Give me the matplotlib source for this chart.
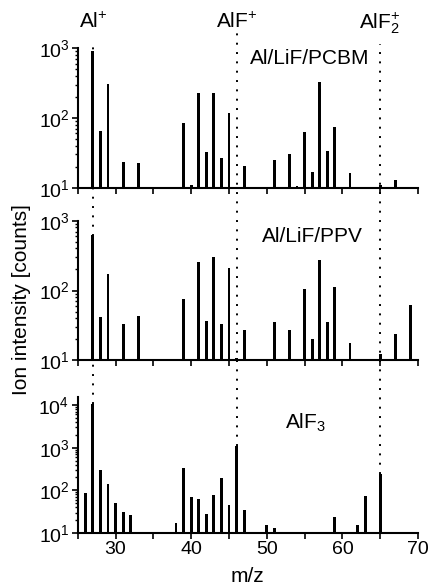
import matplotlib
matplotlib.use("Agg")
import matplotlib.pyplot as plt
from matplotlib.lines import Line2D
from matplotlib.ticker import MultipleLocator, LogLocator, NullFormatter
from matplotlib import transforms
import numpy as np

plt.rcParams['font.family'] = ['Liberation Sans', 'DejaVu Sans']
plt.rcParams['mathtext.fontset'] = 'custom'
plt.rcParams['mathtext.rm'] = 'Liberation Sans'
plt.rcParams['mathtext.it'] = 'Liberation Sans:italic'
plt.rcParams['mathtext.bf'] = 'Liberation Sans:bold'

# ---- data ----
pcbm_mz = [27, 28, 29, 31, 33, 39, 40, 41, 42, 43, 44, 45, 47, 51, 53, 54, 55, 56, 57, 58, 59, 61, 65, 67]
pcbm_counts = [900, 65, 304, 23.6, 22.4, 86, 11, 231, 32, 226, 26.7, 117, 20.7, 25, 30, 10.5, 63.5, 16.8, 331, 33.6, 74, 16.3, 11, 12.9]

ppv_mz = [27, 28, 29, 31, 33, 39, 41, 42, 43, 44, 45, 46, 47, 51, 53, 55, 56, 57, 58, 59, 61, 65, 67, 69]
ppv_counts = [624, 42, 170, 33, 42.7, 74.6, 253, 36.5, 302, 32.8, 212, 10.9, 26.9, 35.4, 27.5, 105, 20, 276, 35.4, 111, 17.7, 12.3, 23.6, 61]

alf3_mz = [26, 27, 28, 29, 30, 31, 32, 38, 39, 40, 41, 42, 43, 44, 45, 46, 47, 50, 51, 59, 62, 63, 65]
alf3_counts = [85, 10400, 300, 143, 49.5, 31, 27, 17.5, 334, 68, 64, 27.9, 76, 195, 46, 1075, 35, 15.4, 12.9, 23.7, 15, 73.6, 241]

panel_labels = ['Al/LiF/PCBM', 'Al/LiF/PPV', r'AlF$_3$']
ion_mz = [27, 46, 65]
ion_labels = [r'Al$^{+}$', r'AlF$^{+}$', r'AlF$_{2}^{+}$']

W, H = 428, 588
fig = plt.figure(figsize=(W / 100, H / 100), dpi=100)

left = 77.7 / W
width = (418 - 77.7) / W
# (top_px, bottom_px, ymax)
panels = [
    (48.3, 187.7, 1e3),
    (220.7, 360.3, 1e3),
    (396.7, 533.0, 10 ** 4.195),
]
data = [(pcbm_mz, pcbm_counts), (ppv_mz, ppv_counts), (alf3_mz, alf3_counts)]
label_pos = [(0.682, 0.885), (0.689, 0.85), (0.67, 0.768)]

axes = []
for i, ((tp, bp, ymax), (mz, cnt)) in enumerate(zip(panels, data)):
    ax = fig.add_axes([left, 1 - bp / H, width, (bp - tp) / H])
    axes.append(ax)
    ax.set_yscale('log')
    cnt = np.array(cnt, dtype=float)
    ax.bar(mz, cnt - 10, bottom=10, width=0.38, color='black', linewidth=0)
    ax.set_xlim(25, 70)
    ax.set_ylim(10, ymax)
    for s in ['top', 'right']:
        ax.spines[s].set_visible(False)
    for s in ['left', 'bottom']:
        ax.spines[s].set_linewidth(1.5)
    ax.xaxis.set_major_locator(MultipleLocator(10))
    ax.xaxis.set_minor_locator(MultipleLocator(5))
    ax.yaxis.set_major_locator(LogLocator(base=10, numticks=10))
    ax.yaxis.set_minor_locator(LogLocator(base=10, subs=np.arange(2, 10), numticks=20))
    ax.yaxis.set_minor_formatter(NullFormatter())
    ax.tick_params(axis='both', which='major', direction='out', length=4, width=1.2,
                   labelsize=14, pad=2)
    ax.tick_params(axis='both', which='minor', direction='out', length=2.5, width=1.0)
    ax.tick_params(axis='x', which='minor', length=4, width=1.2)
    if i < 2:
        ax.tick_params(axis='x', labelbottom=False)
    ax.text(label_pos[i][0], label_pos[i][1], panel_labels[i], transform=ax.transAxes,
            ha='center', va='baseline', fontsize=15)

ax3 = axes[2]
ax3.set_xlabel('m/z', fontsize=15, labelpad=6)
fig.text(0.05, 0.491, 'Ion intensity [counts]', rotation=90, ha='center', va='center',
         fontsize=15)

# dotted marker lines spanning the panels
alf3_lookup = dict(zip(alf3_mz, alf3_counts))
blend = transforms.blended_transform_factory(ax3.transData, fig.transFigure)
top_px = [42, 33, 44]
for x, lab, tpx in zip(ion_mz, ion_labels, top_px):
    ybar = ax3.transData.transform((x, alf3_lookup[x]))[1] / fig.bbox.height
    ytop = 1 - tpx / H
    ln = Line2D([x, x], [ybar, ytop], transform=blend, color='black', lw=1.4,
                linestyle=(0, (1, 3.8)))
    fig.add_artist(ln)
    fig.text(x, 1 - 28 / H, lab, transform=blend, ha='center', va='baseline', fontsize=15)

fig.savefig('out.png', dpi=100)
